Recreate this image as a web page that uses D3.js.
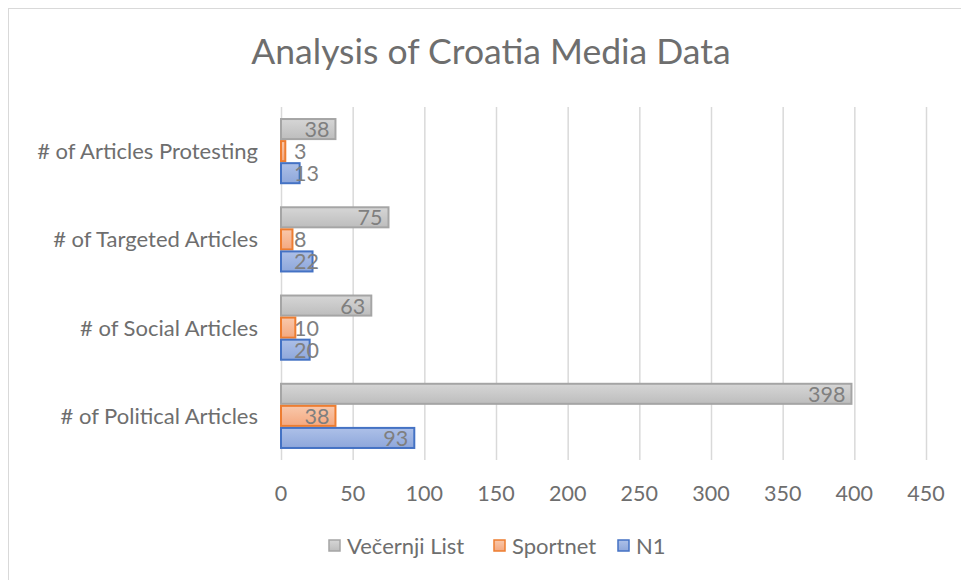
<!DOCTYPE html>
<html>
<head>
    <meta charset="utf-8">
    <title>Analysis of Croatia Media Data</title>
    <script src="https://d3js.org/d3.v7.min.js"></script>
    <style>
        body { margin: 0; background: #fff; }
        text { font-family: Lato, "Open Sans", sans-serif; }
    </style>
</head>
<body>
    <svg width="961" height="580"></svg>

    <script>
        // Chart data
        const categories = ["# of Articles Protesting", "# of Targeted Articles", "# of Social Articles", "# of Political Articles"];
        const seriesNames = ["Večernji List", "Sportnet", "N1"];
        const vecernjiList = [38, 75, 63, 398];
        const sportnet = [3, 8, 10, 38];
        const n1 = [13, 22, 20, 93];
        const xTicks = [0, 50, 100, 150, 200, 250, 300, 350, 400, 450];

        const seriesValues = [vecernjiList, sportnet, n1];
        const seriesStyle = [
            {top: "#d6d6d6", bottom: "#bdbdbd", stroke: "#a5a5a5"},
            {top: "#f9c8ab", bottom: "#f4a87f", stroke: "#ed7d31"},
            {top: "#adc0e8", bottom: "#8ea7db", stroke: "#4472c4"}
        ];
        const textColor = "#6e6e6e";

        const svg = d3.select("svg");

        // gradients
        const defs = svg.append("defs");
        seriesStyle.forEach((s, i) => {
            const g = defs.append("linearGradient")
                .attr("id", "grad" + i)
                .attr("x1", 0).attr("y1", 0).attr("x2", 0).attr("y2", 1);
            g.append("stop").attr("offset", "0%").attr("stop-color", s.top);
            g.append("stop").attr("offset", "100%").attr("stop-color", s.bottom);
        });

        // outer chart border
        svg.append("rect")
            .attr("x", 8.5).attr("y", 8.5)
            .attr("width", 1000).attr("height", 620)
            .attr("fill", "#fff")
            .attr("stroke", "#d9d9d9");

        // title
        svg.append("text")
            .attr("x", 491).attr("y", 64)
            .attr("text-anchor", "middle")
            .attr("font-size", 35.5)
            .attr("fill", textColor)
            .text("Analysis of Croatia Media Data");

        const margin = {left: 281, right: 926, top: 107, bottom: 460};

        const x = d3.scaleLinear()
            .domain([0, 450])
            .range([margin.left, margin.right]);

        const y = d3.scaleBand()
            .domain(categories)
            .range([margin.top, margin.bottom])
            .paddingInner(0.25)
            .paddingOuter(0.125);

        const ySub = d3.scaleBand()
            .domain(seriesNames)
            .range([0, y.bandwidth()]);

        // gridlines
        svg.append("g")
            .selectAll("line")
            .data(xTicks)
            .enter().append("line")
            .attr("x1", d => x(d) + 0.5)
            .attr("x2", d => x(d) + 0.5)
            .attr("y1", margin.top)
            .attr("y2", margin.bottom)
            .attr("stroke", "#d9d9d9")
            .attr("stroke-width", 1.5);

        // x tick labels
        svg.append("g")
            .selectAll("text")
            .data(xTicks)
            .enter().append("text")
            .attr("x", d => x(d))
            .attr("y", 501)
            .attr("text-anchor", "middle")
            .attr("font-size", 21.5)
            .attr("fill", textColor)
            .text(d => d);

        // category labels
        svg.append("g")
            .selectAll("text")
            .data(categories)
            .enter().append("text")
            .attr("x", 258)
            .attr("y", d => y(d) + y.bandwidth() / 2 + 8)
            .attr("text-anchor", "end")
            .attr("font-size", 22)
            .attr("fill", textColor)
            .text(d => d);

        // bars
        const rows = [];
        categories.forEach((c, ci) => {
            seriesNames.forEach((s, si) => {
                rows.push({cat: c, series: s, si: si, value: seriesValues[si][ci]});
            });
        });

        svg.append("g")
            .selectAll("rect")
            .data(rows)
            .enter().append("rect")
            .attr("x", x(0))
            .attr("y", d => y(d.cat) + ySub(d.series) + 1)
            .attr("width", d => x(d.value) - x(0))
            .attr("height", ySub.bandwidth() - 2)
            .attr("fill", d => `url(#grad${d.si})`)
            .attr("stroke", d => seriesStyle[d.si].stroke)
            .attr("stroke-width", 2);

        // data labels (inside end, pushed out for short bars)
        svg.append("g")
            .selectAll("text")
            .data(rows)
            .enter().append("text")
            .attr("y", d => y(d.cat) + ySub(d.series) + ySub.bandwidth() / 2 + 8)
            .attr("font-size", 21.5)
            .attr("fill", "#7f7f7f")
            .attr("text-anchor", "start")
            .text(d => d.value)
            .each(function(d) {
                const w = this.getComputedTextLength();
                const left = Math.max(x(d.value) - 6 - w, x(0) + 13);
                d3.select(this).attr("x", left);
            });

        // legend
        const legend = svg.append("g").attr("transform", "translate(328,539)");
        const legendX = [0, 165, 289];
        seriesNames.forEach((s, i) => {
            const g = legend.append("g").attr("transform", `translate(${legendX[i]},0)`);
            g.append("rect")
                .attr("x", 1).attr("y", 1)
                .attr("width", 11).attr("height", 11)
                .attr("fill", `url(#grad${i})`)
                .attr("stroke", seriesStyle[i].stroke)
                .attr("stroke-width", 1.5);
            g.append("text")
                .attr("x", 19).attr("y", 15)
                .attr("font-size", 22)
                .attr("fill", textColor)
                .text(s);
        });
    </script>
</body>
</html>
